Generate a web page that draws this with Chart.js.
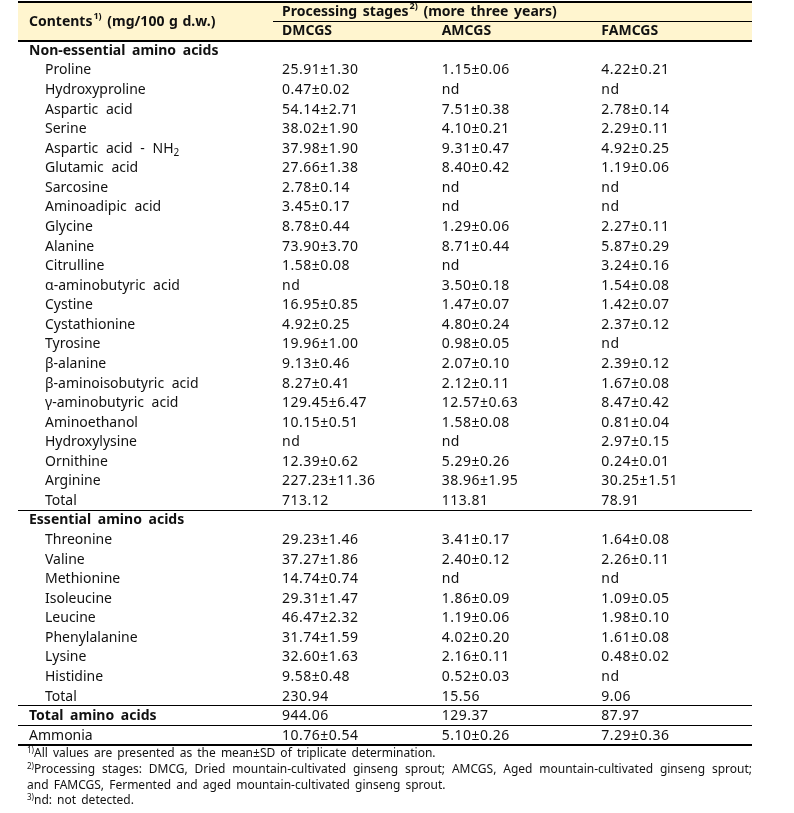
<!DOCTYPE html>
<html><head><meta charset="utf-8">
<script src="https://cdn.jsdelivr.net/npm/chart.js@4.4.1/dist/chart.umd.min.js"></script>
<style>html,body{margin:0;padding:0;background:#fff}#wrap{width:794px;height:813px;position:relative}</style>
</head><body><div id="wrap"><canvas id="c" width="794" height="813"></canvas></div>
<script>
// ---------- DATA ----------
const stages = ['DMCGS', 'AMCGS', 'FAMCGS'];
const nonEssentialNames = ['Proline','Hydroxyproline','Aspartic acid','Serine','Aspartic acid - NH₂','Glutamic acid','Sarcosine','Aminoadipic acid','Glycine','Alanine','Citrulline','α-aminobutyric acid','Cystine','Cystathionine','Tyrosine','β-alanine','β-aminoisobutyric acid','γ-aminobutyric acid','Aminoethanol','Hydroxylysine','Ornithine','Arginine','Total'];
const essentialNames = ['Threonine','Valine','Methionine','Isoleucine','Leucine','Phenylalanine','Lysine','Histidine','Total'];
const summaryNames = ['Total amino acids','Ammonia'];

const dmcgsMean = [25.91,0.47,54.14,38.02,37.98,27.66,2.78,3.45,8.78,73.90,1.58,null,16.95,4.92,19.96,9.13,8.27,129.45,10.15,null,12.39,227.23,713.12,
  29.23,37.27,14.74,29.31,46.47,31.74,32.60,9.58,230.94, 944.06,10.76];
const dmcgsSD = [1.30,0.02,2.71,1.90,1.90,1.38,0.14,0.17,0.44,3.70,0.08,null,0.85,0.25,1.00,0.46,0.41,6.47,0.51,null,0.62,11.36,null,
  1.46,1.86,0.74,1.47,2.32,1.59,1.63,0.48,null, null,0.54];
const amcgsMean = [1.15,null,7.51,4.10,9.31,8.40,null,null,1.29,8.71,null,3.50,1.47,4.80,0.98,2.07,2.12,12.57,1.58,null,5.29,38.96,113.81,
  3.41,2.40,null,1.86,1.19,4.02,2.16,0.52,15.56, 129.37,5.10];
const amcgsSD = [0.06,null,0.38,0.21,0.47,0.42,null,null,0.06,0.44,null,0.18,0.07,0.24,0.05,0.10,0.11,0.63,0.08,null,0.26,1.95,null,
  0.17,0.12,null,0.09,0.06,0.20,0.11,0.03,null, null,0.26];
const famcgsMean = [4.22,null,2.78,2.29,4.92,1.19,null,null,2.27,5.87,3.24,1.54,1.42,2.37,null,2.39,1.67,8.47,0.81,2.97,0.24,30.25,78.91,
  1.64,2.26,null,1.09,1.98,1.61,0.48,null,9.06, 87.97,7.29];
const famcgsSD = [0.21,null,0.14,0.11,0.25,0.06,null,null,0.11,0.29,0.16,0.08,0.07,0.12,null,0.12,0.08,0.42,0.04,0.15,0.01,1.51,null,
  0.08,0.11,null,0.05,0.10,0.08,0.02,null,null, null,0.36];

const footnotes = [
  {sup: '1)', text: 'All values are presented as the mean±SD of triplicate determination.'},
  {sup: '2)', text: 'Processing stages: DMCG, Dried mountain-cultivated ginseng sprout; AMCGS, Aged mountain-cultivated ginseng sprout;', justify: true},
  {sup: '', text: 'and FAMCGS, Fermented and aged mountain-cultivated ginseng sprout.'},
  {sup: '3)', text: 'nd: not detected.'}
];

// ---------- ROWS ----------
const rows = [];
rows.push({key: 'header-1', name: '', kind: 'header'});
rows.push({key: 'header-2', name: '', kind: 'header'});
rows.push({key: 'Non-essential amino acids', name: 'Non-essential amino acids', kind: 'section'});
const dataRowKeys = [];
nonEssentialNames.forEach(n => { const key = 'Non-essential: ' + n; dataRowKeys.push(key); rows.push({key, name: n, kind: 'item'}); });
rows.push({key: 'Essential amino acids', name: 'Essential amino acids', kind: 'section'});
essentialNames.forEach(n => { const key = 'Essential: ' + n; dataRowKeys.push(key); rows.push({key, name: n, kind: 'item'}); });
summaryNames.forEach((n, k) => { dataRowKeys.push(n); rows.push({key: n, name: n, kind: k === 0 ? 'bold' : 'plain'}); });

const means = [dmcgsMean, amcgsMean, famcgsMean];
const sds = [dmcgsSD, amcgsSD, famcgsSD];
const datasets = stages.map((s, si) => ({
  label: s,
  data: dataRowKeys.map((key, k) => ({x: s, y: key, mean: means[si][k], sd: sds[si][k]})),
  pointRadius: 0, pointHoverRadius: 0, showLine: false
}));

// ---------- STYLE ----------
const FONT = '"Noto Sans", "DejaVu Sans", sans-serif';
const TXT = '#111';
const TABLE_LEFT = 18;
const HEADER_BG = '#fff5cf';
const WS = 4;   // extra word spacing
const FWS = 2;

function drawWords(ctx, text, x, y, extra) {
  const words = text.split(' ');
  const sp = ctx.measureText(' ').width;
  words.forEach((w, i) => {
    ctx.fillText(w, x, y);
    x += ctx.measureText(w).width;
    if (i < words.length - 1) x += sp + extra;
  });
  return x;
}
function hline(ctx, x1, x2, y, w) {
  ctx.save(); ctx.strokeStyle = '#000'; ctx.lineWidth = w;
  ctx.beginPath(); ctx.moveTo(x1, y); ctx.lineTo(x2, y); ctx.stroke(); ctx.restore();
}

const tablePlugin = {
  id: 'tablePlugin',
  beforeDatasetsDraw(chart) {
    const ctx = chart.ctx, xs = chart.scales.x, ys = chart.scales.y;
    const band = ys.getPixelForValue(1) - ys.getPixelForValue(0);
    const edge = i => ys.getPixelForValue(i) - band / 2;
    const L = TABLE_LEFT, R = xs.right;
    ctx.save();
    ctx.fillStyle = HEADER_BG;
    ctx.fillRect(L, edge(0), R - L, edge(2) - edge(0));
    ctx.restore();
    hline(ctx, L, R, edge(0) + 1, 2);
    hline(ctx, xs.left, R, Math.round(edge(1)) + 0.5, 1);
    hline(ctx, L, R, edge(2) + 0.8, 2);
    const secIdx = rows.findIndex((r, i) => i > 3 && r.kind === 'section');
    hline(ctx, L, R, Math.round(edge(secIdx)) + 0.5, 1);
    const boldIdx = rows.findIndex(r => r.kind === 'bold');
    hline(ctx, L, R, Math.round(edge(boldIdx)) + 0.5, 1);
    hline(ctx, L, R, Math.round(edge(boldIdx + 1)) + 0.5, 1);
    hline(ctx, L, R, edge(rows.length) + 0.5, 2);
  },
  afterDatasetsDraw(chart) {
    const ctx = chart.ctx, xs = chart.scales.x, ys = chart.scales.y;
    const band = ys.getPixelForValue(1) - ys.getPixelForValue(0);
    const colW = xs.getPixelForValue(1) - xs.getPixelForValue(0);
    const colStart = i => xs.getPixelForValue(i) - colW / 2 + 9;
    const L = TABLE_LEFT;
    ctx.save();
    ctx.fillStyle = TXT;
    ctx.textBaseline = 'middle';
    ctx.textAlign = 'left';
    // header
    const hy = ys.getPixelForValue(0);
    const hy2 = ys.getPixelForValue(1);
    const hmid = (hy + hy2) / 2;
    ctx.font = 'bold 14px ' + FONT;
    let x = drawWords(ctx, 'Contents', L + 11, hmid + 1, 2);
    ctx.font = 'bold 9px ' + FONT;
    ctx.fillText('1)', x + 1, hmid - 4);
    x += ctx.measureText('1)').width + 1;
    ctx.font = 'bold 14px ' + FONT;
    x += ctx.measureText(' ').width + 2;
    drawWords(ctx, '(mg/100 g d.w.)', x, hmid + 1, 1);

    x = drawWords(ctx, 'Processing stages', colStart(0), hy + 1, 2);
    ctx.font = 'bold 9px ' + FONT;
    ctx.fillText('2)', x + 1, hy - 4);
    x += ctx.measureText('2)').width + 1;
    ctx.font = 'bold 14px ' + FONT;
    x += ctx.measureText(' ').width + 2;
    drawWords(ctx, '(more three years)', x, hy + 1, 2);
    stages.forEach((s, i) => drawWords(ctx, s, colStart(i), hy2 + 1, WS));

    // row names
    rows.forEach((r, i) => {
      if (r.kind === 'header') return;
      const y = ys.getPixelForValue(i) + 1;
      if (r.kind === 'section' || r.kind === 'bold') ctx.font = 'bold 14px ' + FONT;
      else ctx.font = '14px ' + FONT;
      const nx = r.kind === 'item' ? L + 27 : L + 11;
      const ws = (r.kind === 'section' || r.kind === 'bold') ? 3 : WS;
      if (r.name.indexOf('NH₂') >= 0) {
        let ex = drawWords(ctx, 'Aspartic acid - NH', nx, y, ws);
        ctx.font = '10px ' + FONT;
        ctx.fillText('2', ex, y + 4);
      } else {
        drawWords(ctx, r.name, nx, y, ws);
      }
    });
    // values from dataset elements
    ctx.font = '14px ' + FONT;
    if ('letterSpacing' in ctx) ctx.letterSpacing = '0.5px';
    chart.data.datasets.forEach((ds, si) => {
      const meta = chart.getDatasetMeta(si);
      meta.data.forEach((el, k) => {
        const p = ds.data[k];
        let t;
        if (p.mean === null) t = 'nd';
        else if (p.sd === null) t = p.mean.toFixed(2);
        else t = p.mean.toFixed(2) + '±' + p.sd.toFixed(2);
        ctx.fillText(t, el.x - colW / 2 + 9, el.y + 1);
      });
    });
    if ('letterSpacing' in ctx) ctx.letterSpacing = '0px';

    // footnotes
    const fy0 = ys.getPixelForValue(rows.length - 1) + band / 2;
    const fyy = [fy0 + 9, fy0 + 25, fy0 + 41, fy0 + 56];
    footnotes.forEach((f, i) => {
      let fx = L + 9;
      if (f.sup) {
        ctx.font = '8px ' + FONT;
        ctx.fillText(f.sup, fx, fyy[i] - 3);
        fx += ctx.measureText(f.sup).width;
      }
      ctx.font = '12px ' + FONT;
      if (f.justify) {
        const words = f.text.split(' ');
        const tot = words.reduce((a, w) => a + ctx.measureText(w).width, 0);
        const gap = (xs.right - fx - tot) / (words.length - 1);
        words.forEach(w => { ctx.fillText(w, fx, fyy[i]); fx += ctx.measureText(w).width + gap; });
      } else {
        drawWords(ctx, f.text, fx, fyy[i], FWS);
      }
    });
    ctx.restore();
  }
};

new Chart(document.getElementById('c'), {
  type: 'scatter',
  data: {datasets},
  options: {
    responsive: false,
    animation: false,
    events: [],
    layout: {padding: {left: 273, right: 42, top: 1, bottom: 68.5}},
    plugins: {legend: {display: false}, tooltip: {enabled: false}},
    scales: {
      x: {type: 'category', labels: stages, offset: true, display: false},
      y: {type: 'category', labels: rows.map(r => r.key), offset: true, display: false}
    }
  },
  plugins: [tablePlugin]
});
</script>
</body></html>
